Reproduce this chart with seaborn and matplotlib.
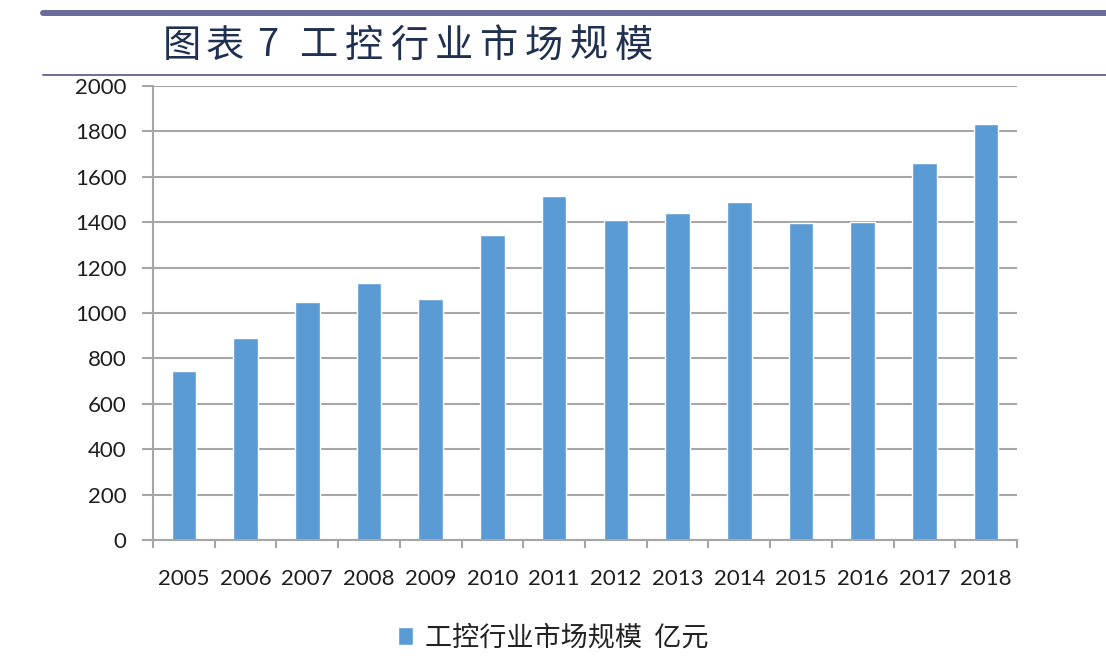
import matplotlib
matplotlib.use("Agg")
import matplotlib.pyplot as plt
from matplotlib.lines import Line2D
from matplotlib.ticker import FixedLocator, MultipleLocator
import seaborn as sns

years = ["2005", "2006", "2007", "2008", "2009", "2010", "2011",
         "2012", "2013", "2014", "2015", "2016", "2017", "2018"]
values = [745, 890, 1050, 1130, 1060, 1345, 1515,
          1410, 1440, 1490, 1395, 1400, 1660, 1833]
series_name = "工控行业市场规模  亿元"
title_head = ["图", "表", "7"]
title_body = "工控行业市场规模"

sns.set_theme(style="white")
plt.rcParams["font.family"] = ["Lato", "Noto Sans CJK SC", "DejaVu Sans"]

W, H = 1106, 672
fig = plt.figure(figsize=(W / 100, H / 100), dpi=100)
fig.patch.set_facecolor("white")
ax = fig.add_axes([153 / W, 1 - 540 / H, (1017 - 153) / W, (540 - 86) / H])

sns.barplot(x=years, y=values, color="#5b9bd5", saturation=1, width=0.4,
            ax=ax, label=series_name, zorder=3)

grid_c = "#a6a6a6"
ax.set_ylim(0, 2000)
ax.set_xlim(-0.5, len(years) - 0.5)
ax.yaxis.set_major_locator(MultipleLocator(200))
ax.grid(axis="y", color=grid_c, linewidth=1.5, zorder=0)
ax.grid(axis="x", visible=False)
ax.set_axisbelow(True)
for s in ["top", "right"]:
    ax.spines[s].set_visible(False)
for s in ["left", "bottom"]:
    ax.spines[s].set_color(grid_c)
    ax.spines[s].set_linewidth(1.5)
    ax.spines[s].set_zorder(4)

ax.set_xlabel("")
ax.set_ylabel("")
lab_c = "#1e1e1e"
ax.tick_params(axis="y", which="major", direction="out", length=8, width=1.5,
               color=grid_c, pad=11, labelsize=16, labelcolor=lab_c, left=True)
ax.tick_params(axis="x", which="major", length=0, pad=21, labelsize=16,
               labelcolor=lab_c, bottom=True)
ax.xaxis.set_minor_locator(FixedLocator([i - 0.5 for i in range(len(years) + 1)]))
ax.tick_params(axis="x", which="minor", direction="out", length=6, width=1.5,
               color=grid_c, bottom=True)

handles, labels = ax.get_legend_handles_labels()
leg = ax.legend(handles[:1], labels[:1], loc="center",
                bbox_to_anchor=(0.5, 1 - 638 / H), bbox_transform=fig.transFigure,
                frameon=False, handlelength=0.55, handleheight=0.6, handletextpad=0.45,
                prop={"family": ["Noto Sans CJK SC", "DejaVu Sans"], "size": 19.5})
for t in leg.get_texts():
    t.set_color("#222222")

# title, laid out character by character to mimic the wide letter spacing
title_c = "#1f3050"
cjk = ["Noto Sans CJK SC", "DejaVu Sans"]
head_x = [182, 225, 268]
for ch, cx in zip(title_head, head_x):
    fig.text(cx / W, 1 - 46 / H, ch, fontsize=27.5, color=title_c, family=cjk,
             fontweight="light", ha="center", va="center")
for k, ch in enumerate(title_body):
    cx = 319 + 45 * k
    fig.text(cx / W, 1 - 46 / H, ch, fontsize=27.5, color=title_c, family=cjk,
             fontweight="light", ha="center", va="center")

line_c = "#6b6b9b"
fig.add_artist(Line2D([43 / W, 1], [1 - 13 / H, 1 - 13 / H], color=line_c,
                      linewidth=4.3, transform=fig.transFigure))
fig.add_artist(Line2D([43 / W, 1], [1 - 75 / H, 1 - 75 / H], color=line_c,
                      linewidth=1.4, transform=fig.transFigure))

fig.savefig("out.png", dpi=100, facecolor="white")
